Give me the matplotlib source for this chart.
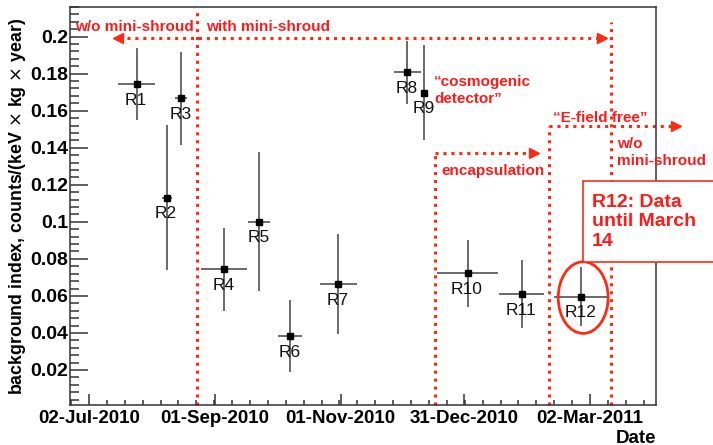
import pandas as pd
import matplotlib.pyplot as plt
import matplotlib.dates as mdates
from matplotlib.patches import Rectangle, Ellipse
from matplotlib.ticker import MultipleLocator, FuncFormatter, FixedLocator

plt.rcParams['font.family'] = ['Liberation Sans', 'DejaVu Sans']

####### DATA #######

run_names = ['R1', 'R2', 'R3', 'R4', 'R5', 'R6', 'R7', 'R8', 'R9', 'R10', 'R11', 'R12']
run_dates = ['2010-07-25 02:00', '2010-08-08 17:00', '2010-08-15 14:00', '2010-09-05 14:00',
             '2010-09-22 14:00', '2010-10-07 12:00', '2010-10-30 22:00', '2010-12-03 10:00',
             '2010-12-11 12:00', '2011-01-01 14:00', '2011-01-27 19:00', '2011-02-25 14:00']
# half length of each run, days
run_halfwidth = [9.0, 2.4, 3.0, 11.2, 5.3, 6.0, 8.9, 6.5, 0.0, 14.7, 10.9, 13.0]
bkg_index = [0.1744, 0.1130, 0.1667, 0.0744, 0.1001, 0.0383, 0.0663, 0.1807, 0.1697, 0.0722, 0.0609, 0.0596]
bkg_err = [0.0194, 0.0391, 0.0252, 0.0225, 0.0375, 0.0194, 0.0270, 0.0169, 0.0257, 0.0180, 0.0183, 0.0158]

tick_dates = ['2010-07-02', '2010-09-01', '2010-11-01', '2010-12-31', '2011-03-02']
tick_labels = ['02-Jul-2010', '01-Sep-2010', '01-Nov-2010', '31-Dec-2010', '02-Mar-2011']

RED = '#ff2a14'
TXT_RED = '#ff1a1a'

####### PLOT #######

x = mdates.date2num(pd.to_datetime(run_dates))
tick_x = mdates.date2num(pd.to_datetime(tick_dates))
t0 = tick_x[0]

fig = plt.figure(figsize=(7.13, 4.45), dpi=100)
ax = fig.add_axes([70/713, 40/445, 586/713, 398/445])

ax.errorbar(x, bkg_index, xerr=run_halfwidth, yerr=bkg_err, fmt='none',
            ecolor='#505050', elinewidth=1.2, capsize=0, zorder=3)
ax.plot(x, bkg_index, 's', color='black', markersize=5, zorder=4)

for name, xi, yi in zip(run_names, x, bkg_index):
    ax.annotate(name, (xi, yi), xytext=(-0.5, -11.5), textcoords='offset points',
                ha='center', va='center', fontsize=12.5, color='#111111', zorder=5)

ax.set_xlim(t0 - 9.2, t0 + 275.0)
ax.set_ylim(0.0011, 0.216)

# axes look
ax.xaxis.set_major_locator(FixedLocator(tick_x))
ax.set_xticklabels(tick_labels)
step = (tick_x[-1] - tick_x[0]) / 28
ax.xaxis.set_minor_locator(FixedLocator([t0 + step * k for k in range(-1, 32)]))
ax.yaxis.set_major_locator(MultipleLocator(0.02))
ax.yaxis.set_minor_locator(MultipleLocator(0.004))
ax.yaxis.set_major_formatter(FuncFormatter(lambda v, p: '%g' % round(v, 3) if v > 0.001 else ''))

ax.tick_params(axis='both', which='both', direction='in', color='#333333', width=1.1,
               top=False, right=False)
ax.tick_params(axis='y', which='major', length=13, pad=1.5, labelsize=14)
ax.tick_params(axis='y', which='minor', length=6.5)
ax.tick_params(axis='x', which='major', length=7.7, pad=3.5, labelsize=13.5)
ax.tick_params(axis='x', which='minor', length=3.4)
for lab in ax.get_xticklabels() + ax.get_yticklabels():
    lab.set_fontweight('bold')
for sp in ax.spines.values():
    sp.set_color('#333333')
    sp.set_linewidth(1.1)

fig.text(18/713, 1 - 206/445, 'background index, counts/(keV $\\times$ kg $\\times$ year)',
         rotation=90, ha='center', va='center', fontsize=12.8, fontweight='bold')
ax.set_xlabel('Date', fontsize=13.5, fontweight='bold', ha='right', va='center')
ax.xaxis.set_label_coords(1.0, -0.083)

####### ANNOTATIONS #######

dot = dict(color=RED, linestyle=(0, (1, 1.6)), linewidth=2.2, clip_on=False, zorder=2)
ybot = 0.0011

# mini-shroud boundary and arrow
ax.plot([t0 + 52.4, t0 + 52.4], [ybot, 0.2133], **dot)
ax.plot([t0 + 14.5, t0 + 248.5], [0.1991, 0.1991], **dot)
ax.plot(t0 + 14.0, 0.1991, '<', color=RED, markersize=7, clip_on=False)
ax.plot(t0 + 249.0, 0.1991, '>', color=RED, markersize=7, clip_on=False)
ax.plot([t0 + 253.2, t0 + 253.2], [ybot, 0.2081], **dot)

# encapsulation
ax.plot([t0 + 167.6, t0 + 167.6], [ybot, 0.1372], **dot)
ax.plot([t0 + 167.6, t0 + 215.5], [0.1372, 0.1372], **dot)
ax.plot(t0 + 216.0, 0.1372, '>', color=RED, markersize=7, clip_on=False)

# E-field free
ax.plot([t0 + 223.2, t0 + 223.2], [ybot, 0.1518], **dot)
ax.plot([t0 + 223.2, t0 + 284.0], [0.1518, 0.1518], **dot)
ax.plot(t0 + 284.5, 0.1518, '>', color=RED, markersize=7, clip_on=False)

lab = dict(color=TXT_RED, fontsize=11, fontweight='bold', ha='left', va='center',
           clip_on=False, zorder=6)
ax.text(t0 - 6.8, 0.2054, 'w/o mini-shroud', **lab)
ax.text(t0 + 56.7, 0.2054, 'with mini-shroud', **lab)
ax.text(t0 + 167.3, 0.1708, '\u201ccosmogenic\ndetector\u201d', linespacing=1.25, **lab)
ax.text(t0 + 171.0, 0.1275, 'encapsulation', **lab)
ax.text(t0 + 225.0, 0.1562, '\u201cE-field free\u201d', **lab)
ax.text(t0 + 255.9, 0.1375, 'w/o\nmini-shroud', linespacing=1.25, **lab)

# R12 note
ax.add_patch(Rectangle((t0 + 239.4, 0.0785), 80, 0.0435, facecolor='white',
                       edgecolor=RED, linewidth=1.2, clip_on=False, zorder=7))
ax.text(t0 + 243.8, 0.1000, 'R12: Data\nuntil March\n14', color=TXT_RED, fontsize=14,
        fontweight='bold', ha='left', va='center', linespacing=1.2, clip_on=False, zorder=8)
ax.add_patch(Ellipse((x[-1] + 1.1, bkg_index[-1] - 0.0005), 24.2, 0.0387, fill=False,
                     edgecolor=RED, linewidth=2.0, clip_on=False, zorder=6))

fig.savefig('out.png', dpi=100)
